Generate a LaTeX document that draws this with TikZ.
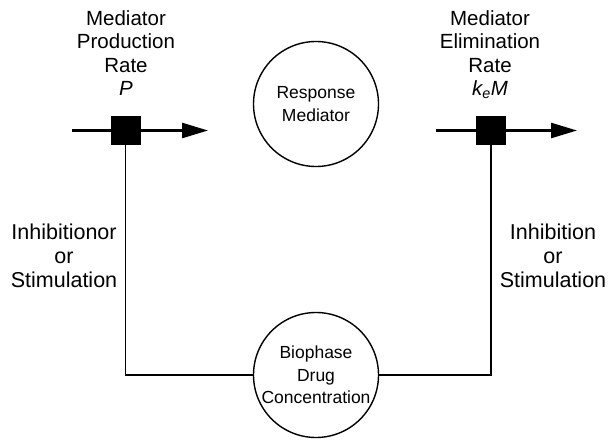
\documentclass[tikz,border=0pt]{standalone}
\usepackage{fontspec}
\setmainfont{Liberation Sans}
\usetikzlibrary{arrows.meta}
\begin{document}
\begin{tikzpicture}[x=1pt,y=-1pt,
  flowline/.style={line width=2.6pt,-{Triangle[length=26pt,width=15pt]}},
  gate/.style={fill=black,minimum width=30pt,minimum height=29pt,inner sep=0pt},
  pool/.style={circle,draw,line width=1.4pt,minimum size=125pt,inner sep=0pt,align=center,font=\fontsize{17.5}{22.5}\selectfont},
  lbl/.style={align=center,font=\fontsize{20.5}{23.5}\selectfont,inner sep=0pt},
  side/.style={align=center,font=\fontsize{21.5}{24}\selectfont,inner sep=0pt},
  link/.style={line width=1.4pt}]
\useasboundingbox (0,0) rectangle (609,441);
% gates
\node[gate] (g1) at (125.5,130.5) {};
\node[gate] (g2) at (491,130.5) {};
\coordinate (a1s) at (72,130.5);
\coordinate (a1e) at (208,130.5);
\coordinate (a2s) at (436,130.5);
\coordinate (a2e) at (577,130.5);
\draw[flowline] (a1s) -- (a1e);
\draw[flowline] (a2s) -- (a2e);
% circles
\node[pool] (resp) at (316,104) {Response\\Mediator};
\node[pool] (drug) at (316,375) {Biophase\\Drug\\Concentration};
% links
\draw[link] (g1.south) |- (drug.west);
\draw[link] (g2.south) |- (drug.east);
% labels
\node[lbl,anchor=north] (l1) at (126,10) {Mediator\\Production\\Rate\\\itshape P};
\node[lbl,anchor=north] (l2) at (490,10) {Mediator\\Elimination\\Rate\\$\mathit{k_e}$\itshape M};
\node[side] (s1) at (64,256) {Inhibitionor\\or\\Stimulation};
\node[side] (s2) at (553,256) {Inhibition\\or\\Stimulation};
\end{tikzpicture}
\end{document}
